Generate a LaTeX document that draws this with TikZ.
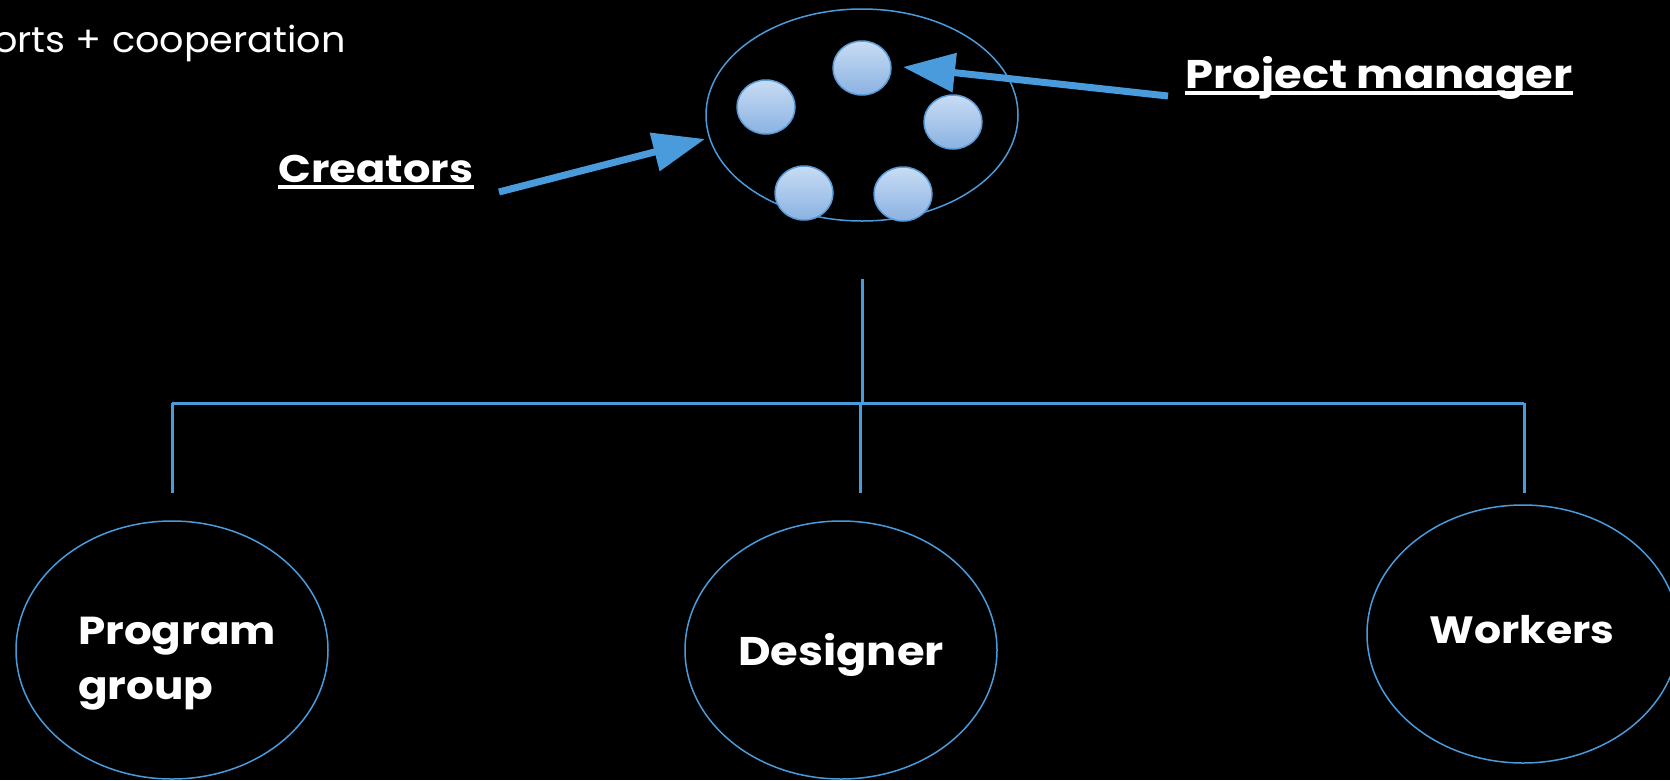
\documentclass[tikz,border=0pt]{standalone}
\usepackage{fontspec}
\setmainfont{Poppins}
\newfontfamily\widebold[FakeStretch=1.12]{Poppins Bold}
\newfontfamily\wideregular[FakeStretch=1.06]{Poppins}
\usetikzlibrary{shapes.geometric,arrows.meta}
\definecolor{lineblue}{HTML}{4A9BDC}
\definecolor{discedge}{HTML}{5B9BD5}
\definecolor{disctop}{HTML}{C8DCF4}
\definecolor{discbottom}{HTML}{8AB2E2}
\tikzset{
  group/.style={ellipse, draw=lineblue, line width=1.5pt, minimum width=312pt,
    minimum height=258pt, inner sep=0pt},
  grouptext/.style={text=white, inner sep=0pt, align=left},
  disc/.style={ellipse, draw=discedge, line width=1.5pt, minimum width=58pt,
    minimum height=54pt, top color=disctop, bottom color=discbottom},
  link/.style={draw=lineblue, line width=3pt},
  pointer/.style={draw=lineblue, line width=7pt,
    -{Triangle[length=52pt,width=38pt]}},
  label/.style={text=white, inner sep=0pt},
  underbar/.style={draw=white, line width=4.5pt}
}
\begin{document}
\begin{tikzpicture}[x=1pt,y=-1pt]
  \fill[black] (0,0) rectangle (1670,780);
  \useasboundingbox (0,0) rectangle (1670,780);

  % heading cut at the left edge
  \node[anchor=base east, text=white, inner sep=0pt,
        font=\wideregular\fontsize{36}{42}\selectfont] (head) at (346,52) {orts + cooperation};

  % team of creators
  \node[ellipse, draw=lineblue, line width=1.5pt, minimum width=312pt,
        minimum height=212pt] (team) at (862,115) {};
  \node[disc] (d1) at (862,68) {};
  \node[disc] (d2) at (766,107) {};
  \node[disc] (d3) at (953,122) {};
  \node[disc] (d4) at (804,193) {};
  \node[disc] (d5) at (903,194) {};

  % labels with their pointers
  \node[label, anchor=base, font=\widebold\fontsize{38.5}{44}\selectfont]
        (creators) at (376,182) {Creators};
  \draw[underbar] ([yshift=-5pt]creators.base west) -- ([yshift=-5pt]creators.base east);
  \node[label, anchor=base, font=\widebold\fontsize{40}{46}\selectfont]
        (pm) at (1379,88) {Project manager};
  \draw[underbar] ([yshift=-5pt]pm.base west) -- ([yshift=-5pt]pm.base east);

  \coordinate (cstart) at (499,192);
  \coordinate (ctip) at (705,139);
  \draw[pointer] (cstart) -- (ctip);
  \coordinate (pstart) at (1168,96);
  \coordinate (ptip) at (903,67);
  \draw[pointer] (pstart) -- (ptip);

  % departments
  \node[group] (prog) at (172,650) {};
  \node[grouptext, anchor=north west, font=\widebold\fontsize{39}{55}\selectfont]
        (progtext) at (78,617) {Program\\group};
  \node[group] (des) at (841,650) {};
  \node[grouptext, anchor=base, font=\widebold\fontsize{40}{55}\selectfont]
        (destext) at (841,665) {Designer};
  \node[group] (work) at (1523,634) {};
  \node[grouptext, anchor=base, font=\widebold\fontsize{38}{55}\selectfont]
        (worktext) at (1522,643) {Workers};

  % tree of connectors
  \coordinate (stem) at (862,279);
  \coordinate (hub) at (862,403);
  \coordinate (barL) at (172,403);
  \coordinate (barM) at (860,403);
  \coordinate (barR) at (1524,403);
  \coordinate (legL) at (172,493);
  \coordinate (legM) at (860,493);
  \coordinate (legR) at (1524,493);
  \draw[link] (stem) -- (hub);
  \draw[link] (barL) -- (barR);
  \draw[link] (barL) -- (legL);
  \draw[link] (barM) -- (legM);
  \draw[link] (barR) -- (legR);
\end{tikzpicture}
\end{document}
